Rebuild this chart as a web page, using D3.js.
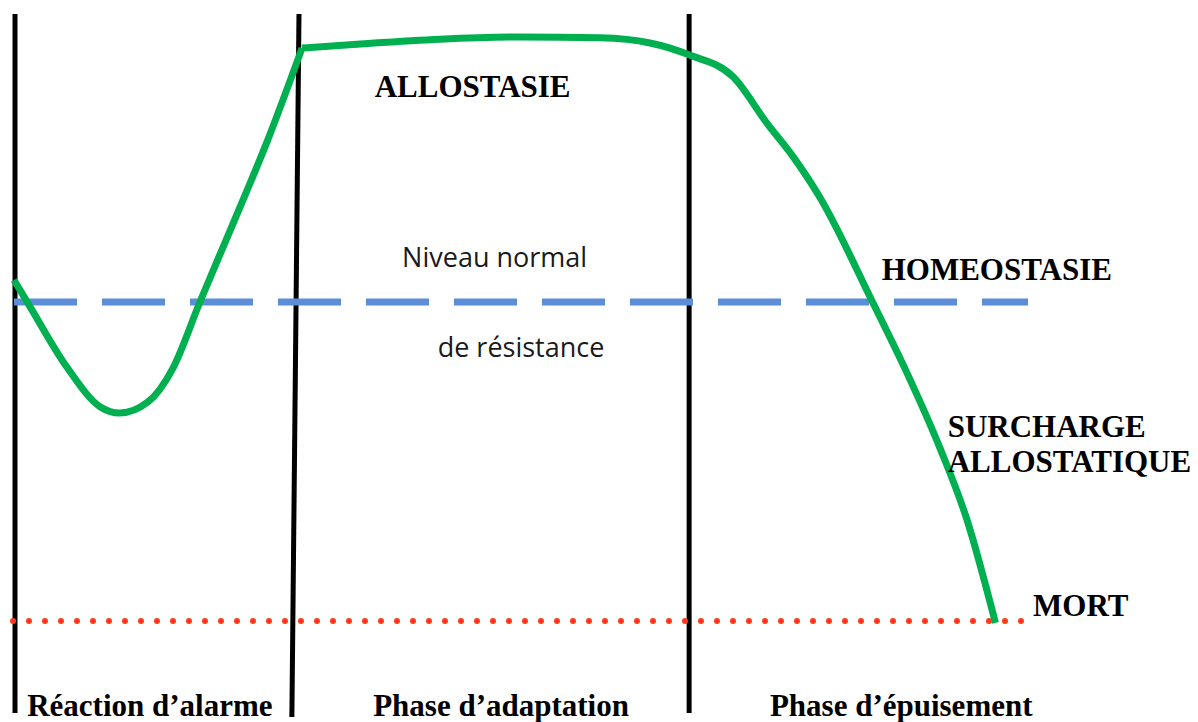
<!DOCTYPE html>
<html>
<head>
	<meta charset="utf-8">
	<title>Syndrome général d'adaptation</title>
	<script src="https://d3js.org/d3.v7.min.js"></script>
	<style>
		body { margin: 0; background: #fff; }
		.bold { font-family: 'Liberation Serif', 'Times New Roman', serif; font-weight: bold; font-size: 31px; fill: #000; }
		.plain { font-family: 'Open Sans', 'Noto Sans', sans-serif; font-size: 27px; fill: #1a1a1a; }
	</style>
</head>
<body>
	<div class="chart"></div>

	<script type="text/javascript">
		// phases (temps 0..100)
		var phases = ['Réaction d’alarme', 'Phase d’adaptation', 'Phase d’épuisement']
		var phaseStartTop = [0, 28.05, 66.45]
		var phaseStartBottom = [0, 27.35, 66.45]

		// niveaux de référence
		var normalLevel = 0
		var deathLevel = -1

		// courbe : réaction d'alarme (jusqu'au coude)
		var alarmTime = [0, 1.6, 5.2, 8.5, 10.4, 13.2, 15.65, 18.3, 21.55, 24.9, 28.35]
		var alarmLevel = [0.069, -0.016, -0.204, -0.329, -0.348, -0.313, -0.207, 0.0, 0.245, 0.502, 0.796]

		// courbe : adaptation puis épuisement
		var resistTime = [28.35, 34.1, 41.9, 49.8, 57.7, 62.6, 66.5, 70.8, 74.1, 76.7, 79.3, 84.5, 87.9, 91.1, 93.8, 96.6]
		var resistLevel = [0.796, 0.809, 0.824, 0.831, 0.828, 0.812, 0.774, 0.705, 0.561, 0.455, 0.329, 0.0, -0.223, -0.455, -0.683, -1.006]

		// annotations
		var levelLabels = ['ALLOSTASIE', 'HOMEOSTASIE', 'SURCHARGE', 'ALLOSTATIQUE', 'MORT']
		var normalLabels = ['Niveau normal', 'de résistance']

		var width = 1198
		var height = 722

		var svg = d3
			.select('.chart')
			.append('svg')
			.attr('width', width)
			.attr('height', height)

		var x = d3.scaleLinear().domain([0, 100]).range([14, 1030])
		var y = d3.scaleLinear().domain([deathLevel, normalLevel]).range([621, 302])

		var lineTop = 14
		var lineBottom = [713, 717, 713]

		// séparateurs de phases
		svg.selectAll('.sep')
			.data(phases)
			.enter()
			.append('line')
			.attr('class', 'sep')
			.attr('x1', (d, i) => x(phaseStartTop[i]) + (i === 0 ? 1 : 0))
			.attr('x2', (d, i) => x(phaseStartBottom[i]) + (i === 0 ? 1 : 0))
			.attr('y1', lineTop)
			.attr('y2', (d, i) => lineBottom[i])
			.attr('stroke', '#000')
			.attr('stroke-width', 5)

		// niveau normal (tirets bleus)
		svg.append('line')
			.attr('x1', x(0))
			.attr('x2', x(100) - 2)
			.attr('y1', y(normalLevel))
			.attr('y2', y(normalLevel))
			.attr('stroke', '#5B8ED6')
			.attr('stroke-width', 7)
			.attr('stroke-dasharray', '63 25')

		// mort (pointillés rouges)
		svg.append('line')
			.attr('x1', x(0) - 1)
			.attr('x2', x(100) - 6)
			.attr('y1', y(deathLevel))
			.attr('y2', y(deathLevel))
			.attr('stroke', '#FF3B14')
			.attr('stroke-width', 6)
			.attr('stroke-linecap', 'round')
			.attr('stroke-dasharray', '0 16')

		// courbe verte
		var line = d3.line()
			.x((d) => x(d[0]))
			.y((d) => y(d[1]))
			.curve(d3.curveMonotoneX)

		var segments = [
			d3.zip(alarmTime, alarmLevel),
			d3.zip(resistTime, resistLevel)
		]
		svg.selectAll('.curve')
			.data(segments)
			.enter()
			.append('path')
			.attr('class', 'curve')
			.attr('d', line)
			.attr('fill', 'none')
			.attr('stroke', '#00B050')
			.attr('stroke-width', 7)
			.attr('stroke-linejoin', 'round')

		// libellés en gras
		var levelLabelPos = [[35.5, 0.644], [85.4, 0.069], [91.9, -0.422], [91.9, -0.533], [100.3, -0.984]]
		svg.selectAll('.lvl')
			.data(levelLabels)
			.enter()
			.append('text')
			.attr('class', 'bold')
			.attr('x', (d, i) => x(levelLabelPos[i][0]))
			.attr('y', (d, i) => y(levelLabelPos[i][1]))
			.text((d) => d)

		// niveau normal de résistance
		var normalLabelPos = [[38.2, 0.111], [41.7, -0.171]]
		svg.selectAll('.nrm')
			.data(normalLabels)
			.enter()
			.append('text')
			.attr('class', 'plain')
			.attr('x', (d, i) => x(normalLabelPos[i][0]))
			.attr('y', (d, i) => y(normalLabelPos[i][1]))
			.text((d) => d)

		// noms des phases
		var phaseLabelTime = [1.3, 35.35, 74.4]
		svg.selectAll('.phase')
			.data(phases)
			.enter()
			.append('text')
			.attr('class', 'bold')
			.attr('x', (d, i) => x(phaseLabelTime[i]))
			.attr('y', 716)
			.text((d) => d)
	</script>
</body>
</html>
